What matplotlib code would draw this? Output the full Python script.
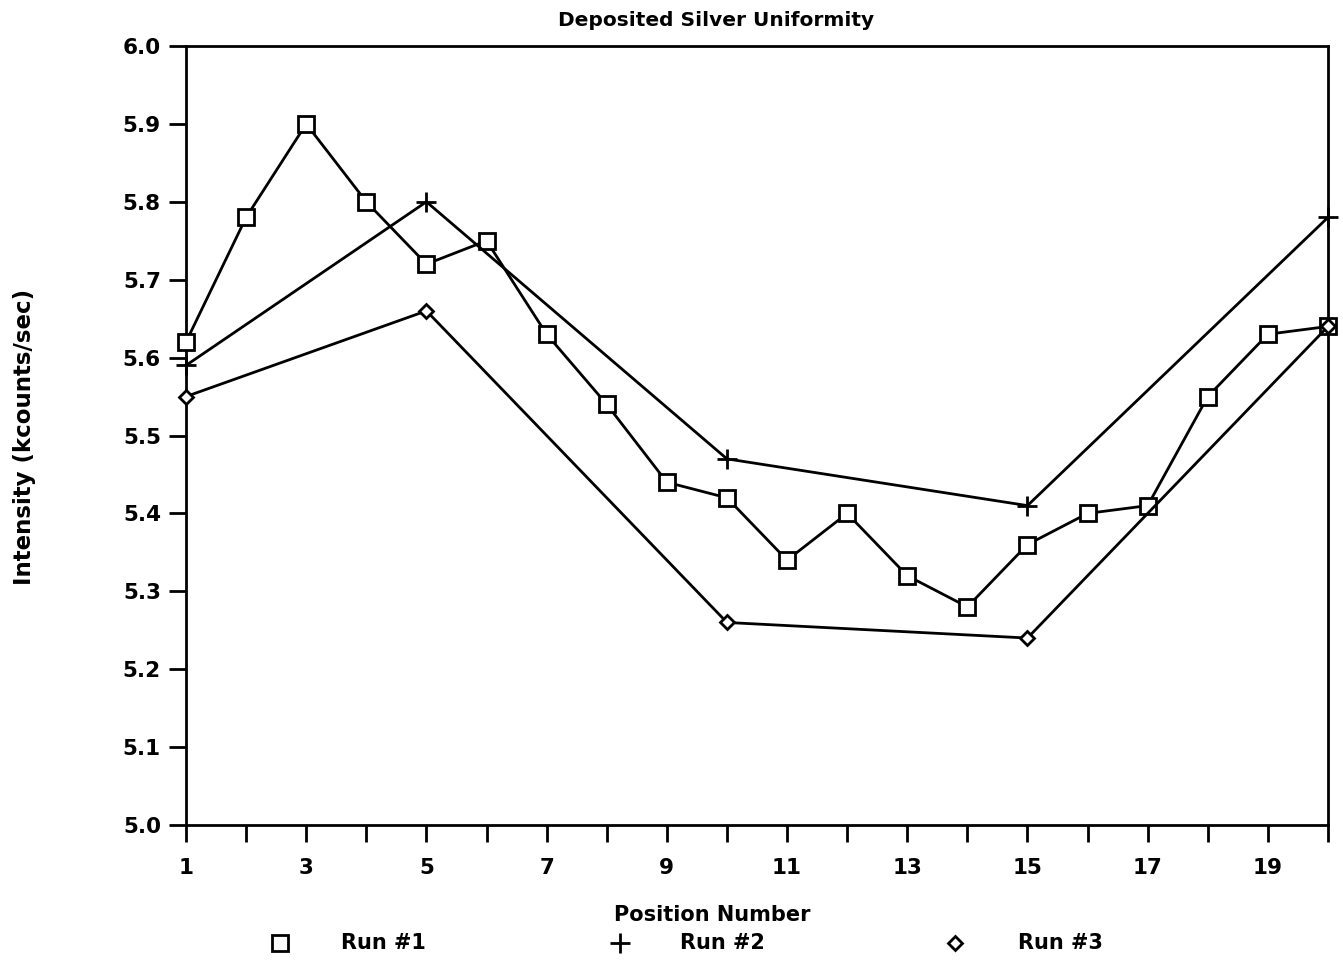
import matplotlib.pyplot as plt
from matplotlib.lines import Line2D

positions = list(range(1, 21))
run1 = [5.62, 5.78, 5.90, 5.80, 5.72, 5.75, 5.63, 5.54, 5.44, 5.42,
        5.34, 5.40, 5.32, 5.28, 5.36, 5.40, 5.41, 5.55, 5.63, 5.64]

pos_sparse = [1, 5, 10, 15, 20]
run2 = [5.59, 5.80, 5.47, 5.41, 5.78]
run3 = [5.55, 5.66, 5.26, 5.24, 5.64]

xticks = list(range(1, 21))
xticklabels = [str(t) if t % 2 == 1 else "" for t in xticks]
yticks = [5.0 + 0.1 * i for i in range(11)]

FONT = "DejaVu Sans"


def main():
    fig = plt.figure(figsize=(13.43, 9.64), dpi=100)
    ax = fig.add_axes([186 / 1343, 1 - 825 / 964, 1142 / 1343, 779 / 964])

    ax.plot(positions, run1, color="k", lw=2, marker="s", ms=11,
            mfc="white", mec="k", mew=2, zorder=3, clip_on=False)
    ax.plot(pos_sparse, run2, color="k", lw=2, marker="+", ms=14,
            mew=2, zorder=3, clip_on=False)
    ax.plot(pos_sparse, run3, color="k", lw=2, marker="D", ms=7,
            mfc="white", mec="k", mew=2, zorder=3, clip_on=False)

    ax.set_xlim(1, 20)
    ax.set_ylim(5.0, 6.0)
    ax.set_xticks(xticks)
    ax.set_xticklabels(xticklabels, fontsize=15.5, fontweight="bold", family=FONT)
    ax.set_yticks(yticks)
    ax.set_yticklabels([f"{v:.1f}" for v in yticks], fontsize=15.5,
                       fontweight="bold", family=FONT)
    ax.tick_params(direction="out", length=12, width=2, pad=12, color="k")
    ax.tick_params(axis="y", pad=6)
    for s in ax.spines.values():
        s.set_linewidth(2)

    fig.text(716 / 1343, 1 - 20 / 964, "Deposited Silver Uniformity",
             ha="center", va="center", fontsize=14.5, fontweight="bold", family=FONT)
    fig.text(712 / 1343, 1 - 915 / 964, "Position Number",
             ha="center", va="center", fontsize=15, fontweight="bold", family=FONT)
    fig.text(25 / 1343, 1 - 437 / 964, "Intensity (kcounts/sec)",
             rotation=90, ha="center", va="center", fontsize=16.5,
             fontweight="bold", family=FONT)

    # legend row underneath the x label
    handles = [
        Line2D([], [], ls="none", marker="s", ms=11, mfc="white", mec="k", mew=2),
        Line2D([], [], ls="none", marker="+", ms=14, mec="k", mew=2),
        Line2D([], [], ls="none", marker="D", ms=7, mfc="white", mec="k", mew=2),
    ]
    labels = ["Run #1", "Run #2", "Run #3"]
    for h, lab, mx, tx in zip(handles, labels, [280, 620, 955], [341, 680, 1018]):
        h.set_data([mx / 1343], [1 - 943 / 964])
        h.set_transform(fig.transFigure)
        fig.add_artist(h)
        fig.text(tx / 1343, 1 - 943 / 964, lab, ha="left", va="center",
                 fontsize=15, fontweight="bold", family=FONT)

    fig.savefig("out.png", dpi=100)


if __name__ == "__main__":
    main()
